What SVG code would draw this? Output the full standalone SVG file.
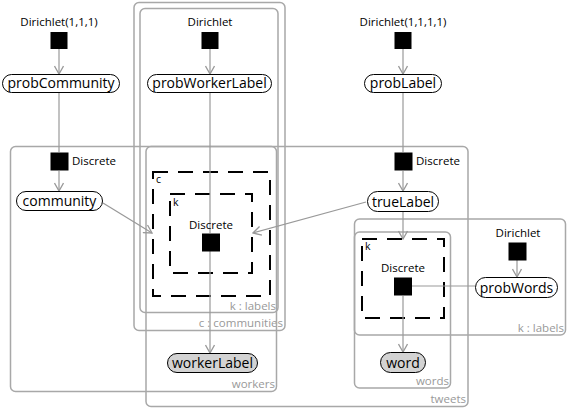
<svg xmlns="http://www.w3.org/2000/svg" width="568" height="408" viewBox="0 0 568 408">
<defs>
<style>
text{font-family:"Open Sans","Noto Sans","DejaVu Sans",sans-serif}
.plate{fill:none;stroke:#a8a8a8;stroke-width:1.5}
.plbl{font-size:11.5px;fill:#999;text-anchor:end}
.gate{fill:none;stroke:#000;stroke-width:2;stroke-dasharray:15,10}
.glbl{font-size:10.5px;fill:#000}
.fac{fill:#000}
.flbl{font-size:11.5px;fill:#000}
.node{fill:#fff;stroke:#000;stroke-width:1}
.obs{fill:#d3d3d3;stroke:#000;stroke-width:1}
.nlbl{font-size:14px;fill:#000;text-anchor:middle}
.edge{fill:none;stroke:#999;stroke-width:1.2}
</style>
<marker id="arr" viewBox="0 0 10 10" refX="9" refY="5" markerWidth="10" markerHeight="10" markerUnits="userSpaceOnUse" orient="auto">
<path d="M1,0.5 L9,5 L1,9.5" fill="none" stroke="#999" stroke-width="1.3"/>
</marker>
</defs>
<rect width="568" height="408" fill="#fff"/>
<g id="plates">
<rect class="plate" x="134" y="2.5" width="151" height="328" rx="5"/>
<text class="plbl" x="283" y="327">c : communities</text>
<rect class="plate" x="140" y="8.5" width="138" height="304" rx="5"/>
<text class="plbl" x="276" y="310">k : labels</text>
<rect class="plate" x="10.5" y="146.5" width="266" height="245" rx="5"/>
<text class="plbl" x="275" y="388">workers</text>
<rect class="plate" x="146" y="146.5" width="322" height="260" rx="5"/>
<text class="plbl" x="466" y="403">tweets</text>
<rect class="plate" x="354.5" y="219" width="211" height="116" rx="5"/>
<text class="plbl" x="564" y="332">k :  labels</text>
<rect class="plate" x="354.5" y="232" width="96" height="156" rx="5"/>
<text class="plbl" x="449" y="385">words</text>
</g>
<g id="gates">
<rect class="gate" x="153" y="172" width="117" height="124"/>
<text class="glbl" x="156" y="183">c</text>
<rect class="gate" x="170" y="194" width="82" height="79"/>
<text class="glbl" x="173" y="206">k</text>
<rect class="gate" x="362" y="239" width="82" height="79"/>
<text class="glbl" x="365" y="250">k</text>
</g>
<g id="connectors">
<line class="edge" x1="59" y1="49" x2="59" y2="74" marker-end="url(#arr)"/>
<line class="edge" x1="59" y1="92" x2="59" y2="152"/>
<line class="edge" x1="59" y1="171" x2="59" y2="191" marker-end="url(#arr)"/>
<line class="edge" x1="103" y1="203" x2="152" y2="233" marker-end="url(#arr)"/>
<line class="edge" x1="210" y1="49" x2="210" y2="74" marker-end="url(#arr)"/>
<line class="edge" x1="210" y1="92" x2="210" y2="233"/>
<line class="edge" x1="210" y1="251" x2="210" y2="353" marker-end="url(#arr)"/>
<line class="edge" x1="403" y1="49" x2="403" y2="74" marker-end="url(#arr)"/>
<line class="edge" x1="403" y1="92" x2="403" y2="152"/>
<line class="edge" x1="403" y1="171" x2="403" y2="191" marker-end="url(#arr)"/>
<line class="edge" x1="366" y1="202" x2="253" y2="233" marker-end="url(#arr)"/>
<line class="edge" x1="403" y1="212" x2="403" y2="239" marker-end="url(#arr)"/>
<line class="edge" x1="517" y1="260" x2="517" y2="277" marker-end="url(#arr)"/>
<line class="edge" x1="475" y1="286" x2="412" y2="286"/>
<line class="edge" x1="403" y1="296" x2="403" y2="352" marker-end="url(#arr)"/>
</g>
<g id="f_dir_community">
<text class="flbl" x="59" y="26" text-anchor="middle">Dirichlet(1,1,1)</text>
<rect class="fac" x="50.5" y="32" width="17" height="17"/>
</g>
<g id="probCommunity">
<rect class="node" x="2.5" y="74.5" width="117" height="18" rx="9"/>
<text class="nlbl" x="61" y="88">probCommunity</text>
</g>
<g id="f_dir_worker">
<text class="flbl" x="210" y="26" text-anchor="middle">Dirichlet</text>
<rect class="fac" x="201.5" y="32" width="17" height="17"/>
</g>
<g id="probWorkerLabel">
<rect class="node" x="147.5" y="74.5" width="124" height="18" rx="9"/>
<text class="nlbl" x="209.5" y="88">probWorkerLabel</text>
</g>
<g id="f_dir_label">
<text class="flbl" x="403" y="26" text-anchor="middle">Dirichlet(1,1,1,1)</text>
<rect class="fac" x="394.5" y="32" width="17" height="17"/>
</g>
<g id="probLabel">
<rect class="node" x="364.5" y="74.5" width="77" height="18" rx="9"/>
<text class="nlbl" x="403" y="88">probLabel</text>
</g>
<g id="f_disc_community">
<rect class="fac" x="50.5" y="152.5" width="18" height="18"/>
<text class="flbl" x="72" y="165">Discrete</text>
</g>
<g id="community">
<rect class="node" x="16.5" y="191.5" width="86" height="19" rx="9.5"/>
<text class="nlbl" x="59.5" y="206">community</text>
</g>
<g id="f_disc_worker">
<text class="flbl" x="211" y="229" text-anchor="middle">Discrete</text>
<rect class="fac" x="202" y="233.5" width="18" height="18"/>
</g>
<g id="workerLabel">
<rect class="obs" x="167.5" y="353.5" width="90" height="19" rx="9.5"/>
<text class="nlbl" x="212.5" y="368">workerLabel</text>
</g>
<g id="f_disc_label">
<rect class="fac" x="394.5" y="152.5" width="18" height="18"/>
<text class="flbl" x="416" y="165">Discrete</text>
</g>
<g id="trueLabel">
<rect class="node" x="367.5" y="191.5" width="71" height="20" rx="10"/>
<text class="nlbl" x="403" y="206.5">trueLabel</text>
</g>
<g id="f_dir_words">
<text class="flbl" x="518" y="237" text-anchor="middle">Dirichlet</text>
<rect class="fac" x="508.5" y="242.5" width="18" height="18"/>
</g>
<g id="probWords">
<rect class="node" x="475.5" y="277.5" width="82" height="20" rx="10"/>
<text class="nlbl" x="516.5" y="292.5">probWords</text>
</g>
<g id="f_disc_word">
<text class="flbl" x="403" y="272" text-anchor="middle">Discrete</text>
<rect class="fac" x="394" y="277.5" width="18" height="18"/>
</g>
<g id="word">
<rect class="obs" x="380.5" y="352.5" width="45" height="20" rx="10"/>
<text class="nlbl" x="403" y="367.5">word</text>
</g>
</svg>
